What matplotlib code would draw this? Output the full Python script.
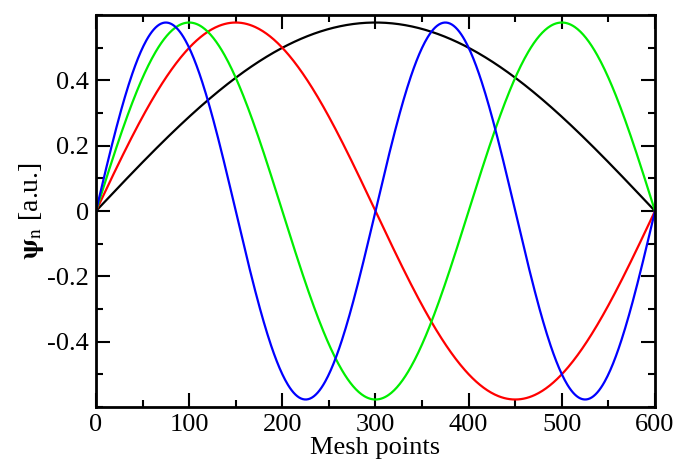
import numpy as np
import matplotlib
matplotlib.use('Agg')
import matplotlib.pyplot as plt
from matplotlib.ticker import MultipleLocator

# --- Data ---
# particle-in-a-box eigenstates sampled on the mesh
box_length = 600
amplitude = 0.577
quantum_numbers = [1, 2, 3, 4]
line_colors = ['black', 'red', '#00ee00', 'blue']
x_ticks = [0, 100, 200, 300, 400, 500, 600]
y_ticks = [-0.4, -0.2, 0, 0.2, 0.4]
y_tick_labels = ['-0.4', '-0.2', '0', '0.2', '0.4']

mesh = np.arange(0, box_length + 1)

plt.rcParams['font.family'] = ['Liberation Serif', 'DejaVu Serif']
plt.rcParams['mathtext.fontset'] = 'stix'

fig = plt.figure(figsize=(6.77, 4.65), dpi=100)
ax = fig.add_axes([0.1418, 0.1247, 0.8257, 0.843])

for n, c in zip(quantum_numbers, line_colors):
    psi = amplitude * np.sin(n * np.pi * mesh / box_length)
    ax.plot(mesh, psi, color=c, lw=1.6)

ax.set_xlim(0, box_length)
ax.set_ylim(-0.6, 0.6)
ax.set_xticks(x_ticks)
ax.set_yticks(y_ticks)
ax.set_yticklabels(y_tick_labels)
ax.xaxis.set_minor_locator(MultipleLocator(50))
ax.yaxis.set_minor_locator(MultipleLocator(0.1))
ax.tick_params(which='both', direction='in', top=True, right=True,
               labelsize=19, width=1.5)
ax.tick_params(which='major', length=10, pad=5)
ax.tick_params(which='minor', length=5)
for s in ax.spines.values():
    s.set_linewidth(2)

ax.set_xlabel('Mesh points', fontsize=19, labelpad=1)
ax.set_ylabel(r'$\mathbf{\psi}_{\rm n}$ [a.u.]', fontsize=20, labelpad=1)

fig.savefig('out.png', dpi=100)
